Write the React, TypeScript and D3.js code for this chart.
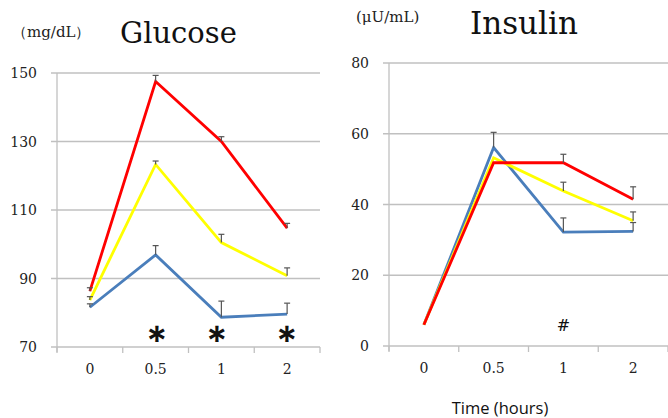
import { useEffect, useRef } from "react";
import { select, scaleBand, scaleLinear, line } from "d3";

const times = ["0", "0.5", "1", "2"];

const glucoseTicks = [70, 90, 110, 130, 150];
const glucoseRed = [86.3, 147.5, 130, 104.7];
const glucoseRedErr = [1, 1.8, 1.4, 1.4];
const glucoseYellow = [83.7, 123.3, 100.5, 90.8];
const glucoseYellowErr = [1, 1, 2.4, 2.3];
const glucoseBlue = [81.6, 96.9, 78.7, 79.6];
const glucoseBlueErr = [1, 2.7, 4.7, 3.2];
const glucoseMarks = ["", "＊", "＊", "＊"];

const insulinTicks = [0, 20, 40, 60, 80];
const insulinRed = [6, 51.8, 51.8, 41.5];
const insulinRedErr = [0, 0, 2.4, 3.5];
const insulinYellow = [6, 53.2, 43.8, 35.4];
const insulinYellowErr = [0, 0, 2.5, 2.5];
const insulinBlue = [6, 56.1, 32.2, 32.4];
const insulinBlueErr = [0, 4.3, 4, 2.5];
const insulinMarks = ["", "", "#", ""];

const RED = "#ff0000";
const YELLOW = "#ffff00";
const BLUE = "#4a7ebb";
const SERIF = "'DejaVu Serif', 'Liberation Serif', serif";

const App: React.FC = () => {
  const svgRef = useRef<SVGSVGElement>(null);

  useEffect(() => {
    const svg = select(svgRef.current);
    svg.selectAll("*").remove();

    const drawPanel = (opts: any) => {
      const g = svg.append("g");
      const x: any = scaleBand().domain(times).range([opts.x0, opts.x1]);
      const y: any = scaleLinear().domain(opts.domain).range([opts.y0, opts.y1]);
      const cx = (d: string) => x(d) + x.bandwidth() / 2;

      // gridlines
      g.selectAll(".grid")
        .data(opts.ticks)
        .join("line")
        .attr("x1", opts.x0 - 6)
        .attr("x2", opts.x1)
        .attr("y1", (d: any) => y(d))
        .attr("y2", (d: any) => y(d))
        .attr("stroke", "#c0c0c0")
        .attr("stroke-width", 1.3);

      // y axis line
      g.append("line")
        .attr("x1", opts.x0)
        .attr("x2", opts.x0)
        .attr("y1", opts.y1)
        .attr("y2", opts.y0 + 5)
        .attr("stroke", "#c0c0c0")
        .attr("stroke-width", 1.3);

      // x ticks
      g.selectAll(".xtick")
        .data(times.map((t) => x(t)).concat([opts.x1]))
        .join("line")
        .attr("x1", (d: any) => d)
        .attr("x2", (d: any) => d)
        .attr("y1", opts.y0)
        .attr("y2", opts.y0 + 6)
        .attr("stroke", "#c0c0c0")
        .attr("stroke-width", 1.3);

      g.selectAll(".ylab")
        .data(opts.ticks)
        .join("text")
        .attr("x", opts.x0 - 20)
        .attr("y", (d: any) => y(d) + 5)
        .attr("text-anchor", "end")
        .attr("font-family", SERIF)
        .attr("font-size", 14)
        .attr("fill", "#222")
        .text((d: any) => d);

      g.selectAll(".xlab")
        .data(times)
        .join("text")
        .attr("x", (d: any) => cx(d))
        .attr("y", opts.y0 + 27)
        .attr("text-anchor", "middle")
        .attr("font-family", SERIF)
        .attr("font-size", 14)
        .attr("fill", "#222")
        .text((d: any) => d);

      const myLine: any = line<number>()
        .x((v, i) => cx(times[i]))
        .y((v) => y(v));

      opts.series.forEach((s: any) => {
        g.append("path")
          .datum(s.values)
          .attr("d", myLine)
          .attr("fill", "none")
          .attr("stroke", s.color)
          .attr("stroke-width", 2.8);
      });

      // error bars (upper only)
      opts.series.forEach((s: any) => {
        s.values.forEach((v: number, i: number) => {
          const e = s.err[i];
          if (!e) return;
          const px = cx(times[i]);
          g.append("line")
            .attr("x1", px)
            .attr("x2", px)
            .attr("y1", y(v))
            .attr("y2", y(v + e))
            .attr("stroke", "#555")
            .attr("stroke-width", 1.2);
          g.append("line")
            .attr("x1", px - 3)
            .attr("x2", px + 3)
            .attr("y1", y(v + e))
            .attr("y2", y(v + e))
            .attr("stroke", "#555")
            .attr("stroke-width", 1.2);
        });
      });

      g.selectAll(".mark")
        .data(opts.marks)
        .join("text")
        .attr("x", (d: any, i: number) => cx(times[i]) + (opts.markDx ? opts.markDx[i] : 0))
        .attr("y", opts.markY)
        .attr("text-anchor", "middle")
        .attr("font-family", opts.markFont)
        .attr("font-weight", opts.markWeight)
        .attr("font-size", opts.markSize)
        .attr("fill", "#111")
        .text((d: any) => d);

      g.append("text")
        .attr("x", opts.titleX)
        .attr("y", opts.titleY)
        .attr("font-family", SERIF)
        .attr("font-size", opts.titleSize)
        .attr("fill", "#111")
        .text(opts.title);

      g.append("text")
        .attr("x", opts.unitX)
        .attr("y", opts.unitY)
        .attr("font-family", SERIF)
        .attr("font-size", 15)
        .attr("fill", "#222")
        .text(opts.unit);
    };

    drawPanel({
      x0: 57,
      x1: 320,
      y0: 347,
      y1: 73,
      domain: [70, 150],
      ticks: glucoseTicks,
      series: [
        { values: glucoseRed, err: glucoseRedErr, color: RED },
        { values: glucoseYellow, err: glucoseYellowErr, color: YELLOW },
        { values: glucoseBlue, err: glucoseBlueErr, color: BLUE },
      ],
      marks: glucoseMarks,
      markDx: [0, 1, -4, 0],
      markY: 351,
      markFont: "'DejaVu Sans', sans-serif",
      markWeight: "bold",
      markSize: 36,
      title: "Glucose",
      titleSize: 29,
      titleX: 120,
      titleY: 43,
      unit: "（mg/dL）",
      unitX: 12,
      unitY: 37,
    });

    drawPanel({
      x0: 389,
      x1: 668,
      y0: 346,
      y1: 63,
      domain: [0, 80],
      ticks: insulinTicks,
      series: [
        { values: insulinBlue, err: insulinBlueErr, color: BLUE },
        { values: insulinYellow, err: insulinYellowErr, color: YELLOW },
        { values: insulinRed, err: insulinRedErr, color: RED },
      ],
      marks: insulinMarks,
      markY: 331,
      markFont: SERIF,
      markWeight: "normal",
      markSize: 16,
      title: "Insulin",
      titleSize: 31,
      titleX: 470,
      titleY: 34,
      unit: "(μU/mL)",
      unitX: 356,
      unitY: 22,
    });

    svg
      .append("text")
      .attr("x", 500)
      .attr("y", 414)
      .attr("text-anchor", "middle")
      .attr("font-family", "'Open Sans', sans-serif")
      .attr("font-size", 16.5)
      .attr("fill", "#111")
      .text("Time (hours)");
  }, []);

  return (
    <svg
      ref={svgRef}
      width={668}
      height={418}
      style={{ position: "absolute", left: 0, top: 0, background: "#fff" }}
    />
  );
};

export default App;
